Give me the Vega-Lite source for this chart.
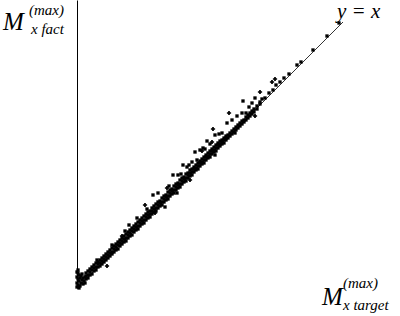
{
  "$schema": "https://vega.github.io/schema/vega-lite/v6.json",
  "width": 268,
  "height": 288,
  "autosize": {"type": "none"},
  "padding": {"left": 77, "top": 0, "right": 55, "bottom": 28},
  "background": "white",
  "config": {"view": {"stroke": null}},
  "datasets": {
    "sq": [
      {"x":0,"y":1},{"x":1,"y":3},{"x":0,"y":5},{"x":2,"y":7},{"x":1,"y":9},{"x":0,"y":11},{"x":2,"y":13},{"x":1,"y":15},{"x":3,"y":2},{"x":4,"y":5},{"x":3,"y":10},{"x":5,"y":8},{"x":2,"y":0},{"x":4,"y":12},{"x":6,"y":4},{"x":6,"y":10},{"x":5,"y":14},{"x":7,"y":7},{"x":8,"y":11},{"x":8,"y":5},{"x":0,"y":16},{"x":1,"y":18},
      {"x":9,"y":9},{"x":9,"y":12},{"x":9,"y":15},
      {"x":11,"y":10},{"x":11,"y":13},{"x":11,"y":17},
      {"x":13,"y":13},{"x":13,"y":16},{"x":13,"y":19},
      {"x":15,"y":14},{"x":15,"y":18},{"x":15,"y":21},
      {"x":17,"y":17},{"x":17,"y":20},{"x":17,"y":23},
      {"x":19,"y":18},{"x":19,"y":21},{"x":19,"y":25},
      {"x":21,"y":21},{"x":21,"y":24},{"x":21,"y":26},
      {"x":23,"y":22},{"x":23,"y":25},{"x":23,"y":28},
      {"x":25,"y":24},{"x":25,"y":27},{"x":25,"y":30},
      {"x":27,"y":26},{"x":27,"y":29},{"x":27,"y":32},
      {"x":29,"y":28},{"x":29,"y":31},{"x":29,"y":34},
      {"x":31,"y":30},{"x":31,"y":33},{"x":31,"y":36},
      {"x":33,"y":32},{"x":33,"y":35},{"x":33,"y":38},
      {"x":35,"y":34},{"x":35,"y":36},{"x":35,"y":40},
      {"x":37,"y":36},{"x":37,"y":39},{"x":37,"y":42},
      {"x":39,"y":38},{"x":39,"y":41},{"x":39,"y":44},
      {"x":41,"y":39},{"x":41,"y":43},{"x":41,"y":46},
      {"x":43,"y":42},{"x":43,"y":45},{"x":43,"y":48},
      {"x":45,"y":44},{"x":45,"y":47},{"x":45,"y":50},
      {"x":47,"y":46},{"x":47,"y":49},{"x":47,"y":52},
      {"x":49,"y":47},{"x":49,"y":50},{"x":49,"y":54},
      {"x":51,"y":50},{"x":51,"y":53},{"x":51,"y":56},
      {"x":53,"y":52},{"x":53,"y":55},{"x":53,"y":58},
      {"x":55,"y":53},{"x":55,"y":57},{"x":55,"y":60},
      {"x":57,"y":56},{"x":57,"y":59},{"x":57,"y":62},
      {"x":59,"y":58},{"x":59,"y":61},{"x":59,"y":64},
      {"x":61,"y":59},{"x":61,"y":62},{"x":61,"y":66},
      {"x":63,"y":62},{"x":63,"y":65},{"x":63,"y":68},
      {"x":65,"y":64},{"x":65,"y":67},{"x":65,"y":70},
      {"x":67,"y":65},{"x":67,"y":68},{"x":67,"y":72},
      {"x":69,"y":68},{"x":69,"y":71},{"x":69,"y":74},
      {"x":71,"y":70},{"x":71,"y":73},{"x":71,"y":76},
      {"x":73,"y":71},{"x":73,"y":74},{"x":73,"y":77},
      {"x":75,"y":74},{"x":75,"y":77},{"x":75,"y":80},
      {"x":77,"y":76},{"x":77,"y":79},{"x":77,"y":82},
      {"x":79,"y":77},{"x":79,"y":80},{"x":79,"y":84},
      {"x":81,"y":80},{"x":81,"y":83},{"x":81,"y":86},
      {"x":83,"y":82},{"x":83,"y":85},{"x":83,"y":87},
      {"x":85,"y":83},{"x":85,"y":86},{"x":85,"y":90},
      {"x":87,"y":86},{"x":87,"y":89},{"x":87,"y":92},
      {"x":89,"y":88},{"x":89,"y":91},{"x":89,"y":93},
      {"x":91,"y":89},{"x":91,"y":92},{"x":91,"y":96},
      {"x":93,"y":92},{"x":93,"y":95},{"x":93,"y":98},
      {"x":95,"y":94},{"x":95,"y":97},{"x":95,"y":99},
      {"x":97,"y":95},{"x":97,"y":98},{"x":97,"y":102},
      {"x":99,"y":98},{"x":99,"y":101},{"x":99,"y":104},
      {"x":101,"y":100},{"x":101,"y":103},{"x":101,"y":105},
      {"x":103,"y":101},{"x":103,"y":104},{"x":103,"y":108},
      {"x":105,"y":104},{"x":105,"y":107},{"x":105,"y":110},
      {"x":107,"y":106},{"x":107,"y":109},{"x":107,"y":111},
      {"x":109,"y":107},{"x":109,"y":110},{"x":109,"y":114},
      {"x":111,"y":110},{"x":111,"y":113},{"x":111,"y":115},
      {"x":113,"y":112},{"x":113,"y":115},{"x":113,"y":118},
      {"x":115,"y":113},{"x":115,"y":116},{"x":115,"y":119},
      {"x":117,"y":116},{"x":117,"y":119},{"x":117,"y":121},
      {"x":119,"y":118},{"x":119,"y":120},{"x":119,"y":123},
      {"x":121,"y":119},{"x":121,"y":122},{"x":121,"y":125},
      {"x":123,"y":122},{"x":123,"y":125},{"x":123,"y":127},
      {"x":125,"y":124},{"x":125,"y":126},{"x":125,"y":129},
      {"x":127,"y":125},{"x":127,"y":128},{"x":127,"y":131},
      {"x":129,"y":128},{"x":129,"y":131},{"x":129,"y":133},
      {"x":131,"y":130},{"x":131,"y":132},{"x":131,"y":135},
      {"x":133,"y":131},{"x":133,"y":134},{"x":133,"y":137},
      {"x":135,"y":134},{"x":135,"y":137},{"x":135,"y":139},
      {"x":137,"y":136},{"x":137,"y":138},{"x":137,"y":141},
      {"x":139,"y":137},{"x":139,"y":140},{"x":139,"y":143},
      {"x":141,"y":140},{"x":141,"y":143},{"x":141,"y":145},
      {"x":143,"y":142},{"x":143,"y":144},{"x":143,"y":147},
      {"x":145,"y":144},{"x":145,"y":146},{"x":145,"y":148},
      {"x":147,"y":145},{"x":147,"y":148},{"x":147,"y":150},
      {"x":149,"y":148},{"x":149,"y":150},{"x":149,"y":152},
      {"x":151,"y":150},{"x":151,"y":153},
      {"x":153,"y":152},{"x":153,"y":155},
      {"x":155,"y":154},{"x":155,"y":157},
      {"x":157,"y":156},{"x":157,"y":159},
      {"x":159,"y":158},{"x":159,"y":161},
      {"x":161,"y":160},{"x":161,"y":163},
      {"x":163,"y":162},{"x":163,"y":165},
      {"x":165,"y":164},{"x":165,"y":167},
      {"x":167,"y":166},{"x":167,"y":168},
      {"x":169,"y":168},{"x":169,"y":171},
      {"x":171,"y":170},{"x":171,"y":173},
      {"x":173,"y":172},{"x":173,"y":175},
      {"x":175,"y":174},{"x":175,"y":177},
      {"x":177,"y":176},{"x":177,"y":179},
      {"x":180,"y":179},{"x":180,"y":182},
      {"x":183,"y":184},{"x":183,"y":186},
      {"x":76,"y":93},{"x":81,"y":95},{"x":96,"y":113},{"x":101,"y":113},{"x":106,"y":123},{"x":118,"y":136},{"x":123,"y":138},{"x":126,"y":140},{"x":130,"y":147},{"x":138,"y":153},{"x":145,"y":155},{"x":150,"y":165},{"x":155,"y":168},{"x":158,"y":155},{"x":165,"y":175},{"x":169,"y":175},{"x":166,"y":187},{"x":175,"y":185},{"x":138,"y":133},{"x":88,"y":81},{"x":100,"y":95},{"x":60,"y":70},{"x":52,"y":63},{"x":110,"y":121},{"x":115,"y":126},{"x":120,"y":128},{"x":133,"y":144},{"x":142,"y":154},{"x":160,"y":172},{"x":172,"y":181},{"x":178,"y":190},
      {"x":20,"y":28},{"x":35,"y":43},{"x":48,"y":57},{"x":70,"y":79},{"x":92,"y":102},{"x":104,"y":114},{"x":112,"y":123},{"x":128,"y":139},
      {"x":185,"y":189},{"x":188,"y":190},{"x":192,"y":195},{"x":196,"y":198},{"x":199,"y":203},{"x":203,"y":206},{"x":207,"y":210},{"x":212,"y":214},{"x":220,"y":223},{"x":224,"y":226},{"x":236,"y":238},{"x":250,"y":252},{"x":262,"y":265}
    ],
    "cr": [
      {"x":68,"y":83},{"x":78,"y":75},{"x":113,"y":108},{"x":136,"y":159},{"x":135,"y":146},{"x":152,"y":175},{"x":178,"y":172},{"x":183,"y":196},{"x":195,"y":206},{"x":198,"y":209},{"x":30,"y":22},{"x":45,"y":52},{"x":90,"y":100},{"x":125,"y":137}
    ],
    "ln": [{"x":0,"y":0},{"x":266,"y":266}],
    "big": [
      {"x":-74,"y":258,"t":"M"},
      {"x":245,"y":-17,"t":"M"}
    ],
    "eq": [
      {"x":260,"y":270,"t":"y = x"}
    ],
    "small": [
      {"x":-48,"y":273,"t":"(max)"},
      {"x":-46,"y":254,"t":"x fact"},
      {"x":266,"y":0,"t":"(max)"},
      {"x":266,"y":-22,"t":"x target"}
    ]
  },
  "layer": [
    {
      "data": {"name": "ln"},
      "mark": {"type": "line", "color": "black", "strokeWidth": 0.8},
      "encoding": {
        "x": {"field": "x", "type": "quantitative", "scale": {"domain": [0, 268], "nice": false}, "axis": null},
        "y": {"field": "y", "type": "quantitative", "scale": {"domain": [0, 288], "nice": false},
              "axis": {"domain": true, "domainColor": "black", "domainWidth": 1, "ticks": false, "labels": false, "grid": false, "title": null}}
      }
    },
    {
      "data": {"name": "sq"},
      "mark": {"type": "point", "shape": "square", "filled": true, "color": "black", "size": 11, "opacity": 1},
      "encoding": {
        "x": {"field": "x", "type": "quantitative"},
        "y": {"field": "y", "type": "quantitative"}
      }
    },
    {
      "data": {"name": "cr"},
      "mark": {"type": "point", "shape": "cross", "filled": true, "color": "black", "size": 18, "opacity": 1},
      "encoding": {
        "x": {"field": "x", "type": "quantitative"},
        "y": {"field": "y", "type": "quantitative"}
      }
    },
    {
      "data": {"name": "big"},
      "mark": {"type": "text", "font": "Liberation Serif", "fontStyle": "italic", "fontSize": 25, "align": "left", "baseline": "alphabetic", "color": "black"},
      "encoding": {
        "x": {"field": "x", "type": "quantitative"},
        "y": {"field": "y", "type": "quantitative"},
        "text": {"field": "t"}
      }
    },
    {
      "data": {"name": "eq"},
      "mark": {"type": "text", "font": "Liberation Serif", "fontStyle": "italic", "fontSize": 21, "align": "left", "baseline": "alphabetic", "color": "black"},
      "encoding": {
        "x": {"field": "x", "type": "quantitative"},
        "y": {"field": "y", "type": "quantitative"},
        "text": {"field": "t"}
      }
    },
    {
      "data": {"name": "small"},
      "mark": {"type": "text", "font": "Liberation Serif", "fontStyle": "italic", "fontSize": 15, "align": "left", "baseline": "alphabetic", "color": "black"},
      "encoding": {
        "x": {"field": "x", "type": "quantitative"},
        "y": {"field": "y", "type": "quantitative"},
        "text": {"field": "t"}
      }
    }
  ]
}
